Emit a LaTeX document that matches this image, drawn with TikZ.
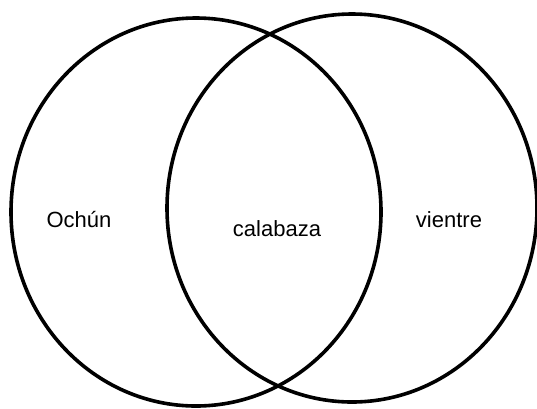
\documentclass[tikz,border=0pt]{standalone}
\usepackage{fontspec}
\setmainfont{Liberation Sans}
\usepackage{tikz}
\usetikzlibrary{shapes.geometric}

\begin{document}
\begin{tikzpicture}[
  x=1pt, y=-1pt,
  venn/.style={draw=black, line width=3.6pt, ellipse, inner sep=0pt,
    minimum width=370pt, minimum height=388pt},
  tag/.style={anchor=base, inner sep=0pt, font=\fontsize{22}{26}\selectfont}
]
  \useasboundingbox[fill=white] (0,0) rectangle (537,408);

  \node[venn] (ochun) at (196,212) {};
  \node[venn] (vientre) at (352,208) {};

  \node[tag] (lochun) at (79,227) {Ochún};
  \node[tag] (lcalabaza) at (277,236) {calabaza};
  \node[tag] (lvientre) at (449,227) {vientre};
\end{tikzpicture}
\end{document}
